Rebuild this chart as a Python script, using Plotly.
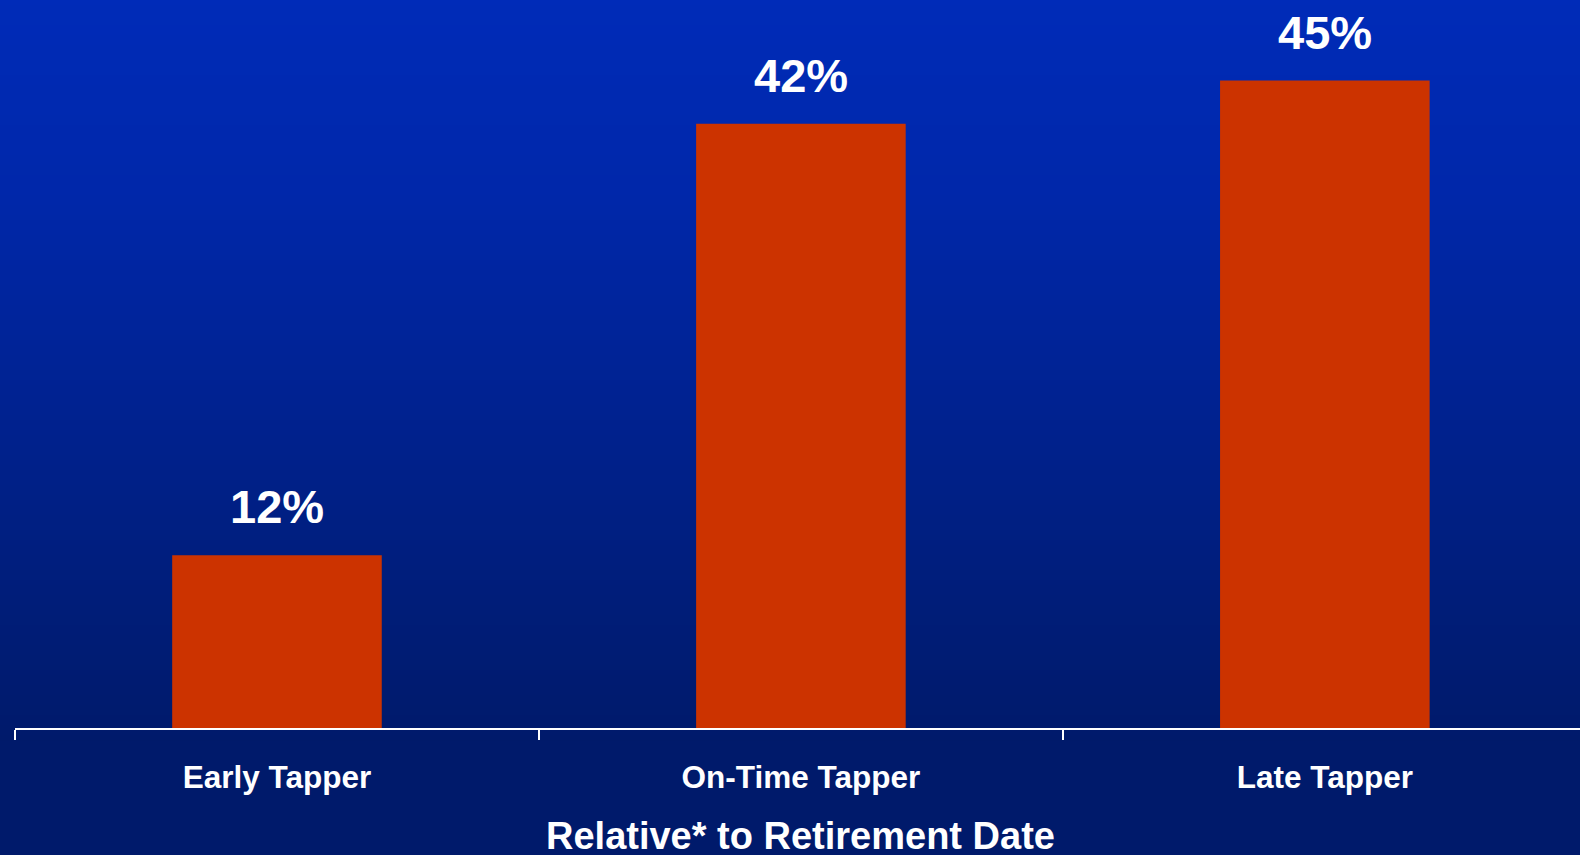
import plotly.graph_objects as go

# Share of respondents by timing of first withdrawal
categories = ["Early Tapper", "On-Time Tapper", "Late Tapper"]
shares = [12, 42, 45]
axis_title = "Relative* to Retirement Date"

BAR_COLOR = "#cc3300"
FONT = "Liberation Sans, Arial, sans-serif"

# Vertical background gradient: (pixel row from top, colour)
gradient_stops = [
    (0, (0x00, 0x2b, 0xb8)),
    (200, (0x00, 0x27, 0xa9)),
    (400, (0x00, 0x22, 0x91)),
    (600, (0x00, 0x1d, 0x79)),
    (740, (0x00, 0x1a, 0x6b)),
]

W, H = 1580, 855
M_L, M_R, M_T, M_B = 15, 0, 0, 127
plot_h = H - M_T - M_B


def colour_at(py):
    for (y0, c0), (y1, c1) in zip(gradient_stops, gradient_stops[1:]):
        if y0 <= py <= y1:
            f = (py - y0) / (y1 - y0)
            return "rgb(%d,%d,%d)" % tuple(round(a + (b - a) * f) for a, b in zip(c0, c1))
    return "rgb(%d,%d,%d)" % gradient_stops[-1][1]


def to_paper(py):
    return (H - M_B - py) / plot_h


shapes = []
step = 5
end = gradient_stops[-1][0]
for py in range(0, end, step):
    shapes.append(dict(
        type="rect", xref="paper", yref="paper", layer="below",
        x0=-0.02, x1=1.02, y0=to_paper(py + step + 0.5), y1=to_paper(py),
        fillcolor=colour_at(py + step / 2), line=dict(width=0),
    ))

fig = go.Figure(go.Bar(
    x=categories, y=shares, width=0.4,
    marker=dict(color=BAR_COLOR, line=dict(width=0)),
    hoverinfo="skip",
))

annotations = [
    dict(x=c, y=v, xref="x", yref="y", text=f"{v}%", showarrow=False,
         yanchor="bottom", yshift=20,
         font=dict(family=FONT, size=47, color="white", weight="bold"))
    for c, v in zip(categories, shares)
]

# Axis title sits low in the bottom margin, so place it as an annotation
annotations.append(dict(
    x=1, y=to_paper(836), xref="x", yref="paper", text=axis_title,
    showarrow=False, xanchor="center", yanchor="middle",
    font=dict(family=FONT, size=38, color="white", weight="bold"),
))

fig.update_layout(
    width=W, height=H,
    margin=dict(l=M_L, r=M_R, t=M_T, b=M_B, pad=0),
    paper_bgcolor="#001a6b",
    plot_bgcolor="rgba(0,0,0,0)",
    shapes=shapes,
    annotations=annotations,
    showlegend=False,
    font=dict(family=FONT, color="white"),
    xaxis=dict(
        type="category", range=[-0.5, 2.487],
        showline=True, linecolor="white", linewidth=2,
        ticks="outside", tickson="boundaries", ticklen=10,
        tickcolor="white", tickwidth=2,
        showgrid=False, zeroline=False,
        tickfont=dict(family=FONT, size=31.5, color="white", weight="bold"),
        ticklabelstandoff=20,
    ),
    yaxis=dict(visible=False, range=[0, 50.6], showgrid=False, zeroline=False),
)

fig.write_html("out.html")
